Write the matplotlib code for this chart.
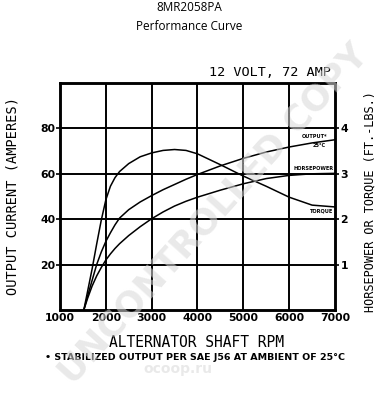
import matplotlib.pyplot as plt

# values (left axis units, amperes scale)
rpm = [1520, 1600, 1700, 1800, 1900, 2000, 2100, 2200, 2300, 2500, 2750, 3000,
       3250, 3500, 3750, 4000, 4500, 5000, 5500, 6000, 6500, 7000]
output_amps = [0, 6, 13, 20, 25.5, 30.2, 34, 37.5, 40.5, 44.2, 47.6, 50.4,
               53, 55.3, 57.6, 59.7, 63.5, 66.8, 69.6, 71.8, 73.6, 75]
horsepower_amps = [0, 5, 10.5, 15, 18.7, 22, 24.7, 27.1, 29.2, 32.8, 36.7, 40.2,
                   43.2, 45.8, 47.9, 49.7, 52.8, 55.6, 57.9, 59.3, 60, 60.2]
torque_amps = [0, 8, 18, 29, 39.5, 48.5, 54.5, 58.3, 61, 64.5, 67.5, 69.2,
               70.3, 70.7, 70.3, 68.8, 64, 59, 54.5, 49.7, 46.2, 45.4]

x_ticks = [1000, 2000, 3000, 4000, 5000, 6000, 7000]
x_tick_labels = ["1000", "2000", "3000", "4000", "5000", "6000", "7000"]
left_ticks = [20, 40, 60, 80]
right_ticks = [1, 2, 3, 4]

fig = plt.figure(figsize=(3.78, 4.0), dpi=100)
ax = fig.add_axes([0.1587, 0.225, 0.7275, 0.5675])

ax.set_xlim(1000, 7000)
ax.set_ylim(0, 100)

# grid
for x in x_ticks[1:-1]:
    ax.axvline(x, color='black', linewidth=1.4, zorder=1)
for y in left_ticks:
    ax.axhline(y, color='black', linewidth=1.4, zorder=1)
for s in ax.spines.values():
    s.set_linewidth(1.8)

tick_font = dict(fontsize=7.8, fontweight='bold', family='DejaVu Sans')
ax.set_xticks(x_ticks)
ax.set_xticklabels(x_tick_labels, **tick_font)
ax.set_yticks(left_ticks)
ax.set_yticklabels([str(v) for v in left_ticks], **tick_font)
ax.tick_params(axis='x', length=0, pad=2)
ax.tick_params(axis='y', length=3, width=1.2, pad=0.5)

ax2 = ax.twinx()
ax2.set_ylim(0, 5)
ax2.set_yticks(right_ticks)
ax2.set_yticklabels([str(v) for v in right_ticks], **tick_font)
ax2.tick_params(axis='y', length=3, width=1.2, pad=1)
for s in ax2.spines.values():
    s.set_linewidth(1.8)

# curves
ax.plot(rpm, output_amps, color='black', linewidth=1.1, zorder=3)
ax.plot(rpm, horsepower_amps, color='black', linewidth=1.1, zorder=3)
ax.plot(rpm, torque_amps, color='black', linewidth=1.1, zorder=3)

small = dict(fontsize=3.6, fontweight='bold', color='black', ha='center', va='center')
ax.text(6560, 76.5, "OUTPUT*", **small)
ax.text(6650, 72.5, "25°C", **small)
ax.text(6540, 62.5, "HORSEPOWER", **small)
ax.text(6700, 43.8, "TORQUE", **small)

# titles and labels
fig.text(0.5, 0.982, "8MR2058PA", ha='center', va='center', fontsize=8.5, family='Open Sans')
fig.text(0.5, 0.933, "Performance Curve", ha='center', va='center', fontsize=8.5, family='Open Sans')
fig.text(0.714, 0.82, "12 VOLT, 72 AMP", ha='center', va='center', fontsize=9.7,
         family='DejaVu Sans Mono')
fig.text(0.032, 0.51, "OUTPUT CURRENT (AMPERES)", rotation=90, ha='center', va='center',
         fontsize=9.8, family='DejaVu Sans Mono')
fig.text(0.979, 0.497, "HORSEPOWER OR TORQUE (FT.-LBS.)", rotation=90, ha='center', va='center',
         fontsize=8.6, family='DejaVu Sans Mono')
fig.text(0.52, 0.143, "ALTERNATOR SHAFT RPM", ha='center', va='center', fontsize=10.5,
         family='DejaVu Sans Mono')
fig.text(0.119, 0.1075, "\u2022 STABILIZED OUTPUT PER SAE J56 AT AMBIENT OF 25°C", ha='left', va='center',
         fontsize=6.8, fontweight='bold', family='DejaVu Sans')

# watermarks
fig.text(0.565, 0.465, "UNCONTROLLED COPY", rotation=48, ha='center', va='center',
         fontsize=25.5, fontweight='bold', color='#d8d8d8', alpha=0.55, family='DejaVu Sans')
fig.text(0.47, 0.078, "ocoop.ru", ha='center', va='center',
         fontsize=10, fontweight='bold', color='#d8d8d8', alpha=0.55, family='DejaVu Sans')

fig.savefig("out.png", dpi=100)
